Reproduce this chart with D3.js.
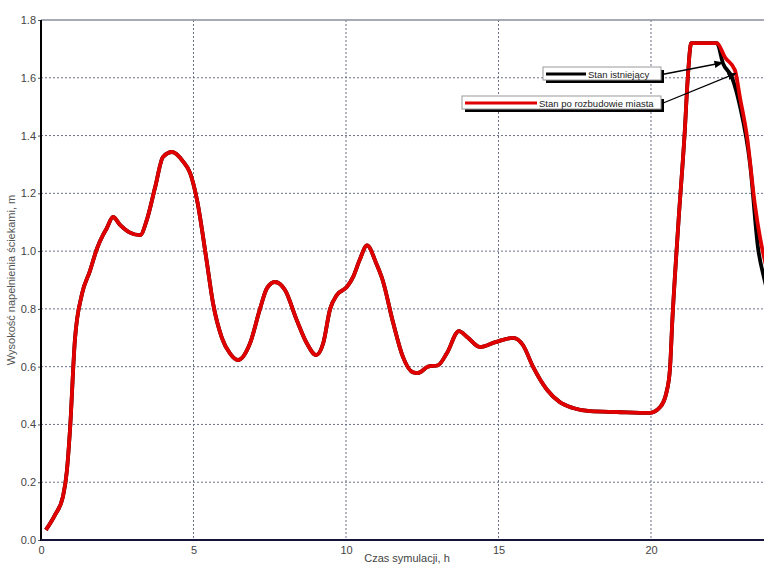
<!DOCTYPE html>
<html><head><meta charset="utf-8">
<script src="https://cdn.jsdelivr.net/npm/d3@7"></script>
<style>body{margin:0;background:#fff}svg{display:block}</style>
</head><body>
<svg id="c" width="764" height="565"></svg>
<script>
const xTicks = [0, 5, 10, 15, 20];
const yTicks = [0.0, 0.2, 0.4, 0.6, 0.8, 1.0, 1.2, 1.4, 1.6, 1.8];
const xLabel = "Czas symulacji, h";
const yLabel = "Wysokość napełnienia ściekami, m";
const seriesNames = ["Stan istniejący", "Stan po rozbudowie miasta"];

// Stan po rozbudowie miasta (red)
const redT = [0.16,0.46,0.72,0.85,0.95,1.11,1.34,1.6,1.84,2.03,2.16,2.36,2.6,2.9,3.25,3.47,3.74,4.0,4.3,4.66,4.89,5.11,5.44,5.64,5.93,6.2,6.46,6.85,7.18,7.41,7.67,8.0,8.39,8.72,9.02,9.25,9.48,9.7,10.03,10.23,10.45,10.69,11.0,11.2,11.55,11.87,12.2,12.36,12.69,13.02,13.31,13.7,14.0,14.39,14.9,15.48,15.8,16.13,16.59,17.0,17.44,18.0,18.88,19.97,20.3,20.5,20.62,20.7,20.9,21.11,21.2,21.32,22.16,22.43,22.75,22.92,23.15,23.4,23.57,23.75,24.0];
const redV = [0.035,0.087,0.15,0.24,0.38,0.69,0.85,0.93,1.01,1.055,1.08,1.118,1.09,1.065,1.055,1.108,1.22,1.326,1.343,1.31,1.27,1.18,0.96,0.82,0.70,0.645,0.623,0.68,0.80,0.872,0.893,0.865,0.76,0.68,0.64,0.68,0.80,0.848,0.876,0.91,0.97,1.02,0.955,0.90,0.75,0.633,0.58,0.578,0.60,0.605,0.647,0.723,0.70,0.668,0.685,0.70,0.675,0.60,0.52,0.478,0.457,0.446,0.443,0.44,0.46,0.508,0.59,0.76,1.1,1.42,1.59,1.72,1.72,1.67,1.627,1.53,1.395,1.166,1.05,0.96,0.88];

// Stan istniejący (black) – identical until the peak, then diverges
const blackT = [0.16,0.46,0.72,0.85,0.95,1.11,1.34,1.6,1.84,2.03,2.16,2.36,2.6,2.9,3.25,3.47,3.74,4.0,4.3,4.66,4.89,5.11,5.44,5.64,5.93,6.2,6.46,6.85,7.18,7.41,7.67,8.0,8.39,8.72,9.02,9.25,9.48,9.7,10.03,10.23,10.45,10.69,11.0,11.2,11.55,11.87,12.2,12.36,12.69,13.02,13.31,13.7,14.0,14.39,14.9,15.48,15.8,16.13,16.59,17.0,17.44,18.0,18.88,19.97,20.3,20.5,20.62,20.7,20.9,21.11,21.2,21.32,22.16,22.36,22.66,22.92,23.25,23.51,23.7,24.0];
const blackV = [0.035,0.087,0.15,0.24,0.38,0.69,0.85,0.93,1.01,1.055,1.08,1.118,1.09,1.065,1.055,1.108,1.22,1.326,1.343,1.31,1.27,1.18,0.96,0.82,0.70,0.645,0.623,0.68,0.80,0.872,0.893,0.865,0.76,0.68,0.64,0.68,0.80,0.848,0.876,0.91,0.97,1.02,0.955,0.90,0.75,0.633,0.58,0.578,0.60,0.605,0.647,0.723,0.70,0.668,0.685,0.70,0.675,0.60,0.52,0.478,0.457,0.446,0.443,0.44,0.46,0.508,0.59,0.76,1.1,1.42,1.59,1.72,1.72,1.65,1.60,1.50,1.30,1.01,0.91,0.80];

// arrow targets on the curves (data coordinates)
const arrowTargets = [[22.35, 1.652], [22.78, 1.615]];

const svg = d3.select("#c");
const m = {left: 41, top: 20, right: 773, bottom: 540};
const x = d3.scaleLinear().domain([0, 24]).range([m.left, m.right]);
const y = d3.scaleLinear().domain([0, 1.8]).range([m.bottom, m.top]);
const FONT = "'Liberation Sans', Arial, sans-serif";

// grid
const g = svg.append("g");
g.selectAll(".vg").data(xTicks.filter(d => d > 0)).join("line")
  .attr("x1", d => x(d)).attr("x2", d => x(d)).attr("y1", m.top).attr("y2", m.bottom)
  .attr("stroke", "#6a6f88").attr("stroke-width", 1).attr("stroke-dasharray", "2,2");
g.selectAll(".hg").data(yTicks.filter(d => d > 0 && d < 1.8)).join("line")
  .attr("x1", m.left).attr("x2", 764).attr("y1", d => y(d)).attr("y2", d => y(d))
  .attr("stroke", "#6a6f88").attr("stroke-width", 1).attr("stroke-dasharray", "2,2");
// top border
g.append("line").attr("x1", m.left).attr("x2", 764).attr("y1", y(1.8)).attr("y2", y(1.8))
  .attr("stroke", "#8a8c9c").attr("stroke-width", 1.5);

// axes
const yAxis = d3.axisLeft(y).tickValues(yTicks).tickFormat(d3.format(".1f")).tickSize(3).tickPadding(2);
const ya = svg.append("g").attr("transform", `translate(${m.left},0)`).call(yAxis);
ya.select(".domain").remove();
ya.selectAll("line").attr("stroke", "#555");
ya.selectAll("text").attr("fill", "#444").style("font", `11px ${FONT}`);

const xAxis = d3.axisBottom(x).tickValues(xTicks).tickSize(0).tickPadding(6);
const xa = svg.append("g").attr("transform", `translate(0,${m.bottom})`).call(xAxis);
xa.select(".domain").remove();
xa.selectAll("text").attr("fill", "#444").style("font", `11px ${FONT}`);

// lines
const line = d3.line().x(d => x(d[0])).y(d => y(d[1])).curve(d3.curveMonotoneX);
const blackData = blackT.map((t, i) => [t, blackV[i]]);
const redData = redT.map((t, i) => [t, redV[i]]);
svg.append("path").datum(blackData).attr("d", line).attr("fill", "none")
  .attr("stroke", "#000").attr("stroke-width", 3.8).attr("stroke-linejoin", "round");
svg.append("path").datum(redData).attr("d", line).attr("fill", "none")
  .attr("stroke", "#e00000").attr("stroke-width", 3.8).attr("stroke-linejoin", "round");

// axis lines
svg.append("line").attr("x1", m.left).attr("x2", m.left).attr("y1", m.top).attr("y2", m.bottom + 1)
  .attr("stroke", "#000").attr("stroke-width", 2);
svg.append("line").attr("x1", m.left).attr("x2", 764).attr("y1", m.bottom).attr("y2", m.bottom)
  .attr("stroke", "#14143a").attr("stroke-width", 2);

// axis titles
svg.append("text").attr("x", (m.left + m.right) / 2).attr("y", 562).attr("text-anchor", "middle")
  .attr("fill", "#444").style("font", `11px ${FONT}`).text(xLabel);
svg.append("text").attr("transform", `translate(15,${(m.top + m.bottom) / 2}) rotate(-90)`)
  .attr("text-anchor", "middle").attr("fill", "#555")
  .style("font", `11px ${FONT}`).text(yLabel);

// legend callouts
svg.append("defs").append("marker").attr("id", "ah").attr("viewBox", "0 0 10 10")
  .attr("refX", 9).attr("refY", 5).attr("markerWidth", 7).attr("markerHeight", 7)
  .attr("orient", "auto").append("path").attr("d", "M0,1 L10,5 L0,9 Z").attr("fill", "#000");

const boxes = [
  {x0: 543, y0: 67, w: 118, h: 13, lineW: 40, color: "#000"},
  {x0: 462, y0: 96, w: 199, h: 13, lineW: 72, color: "#e00000"}
];
boxes.forEach((b, i) => {
  const gg = svg.append("g");
  gg.append("rect").attr("x", b.x0 + 3).attr("y", b.y0 + 3).attr("width", b.w).attr("height", b.h).attr("fill", "#000");
  gg.append("rect").attr("x", b.x0).attr("y", b.y0).attr("width", b.w).attr("height", b.h)
    .attr("fill", "#fff").attr("stroke", "#999").attr("stroke-width", 1);
  gg.append("line").attr("x1", b.x0 + 3).attr("x2", b.x0 + 3 + b.lineW)
    .attr("y1", b.y0 + b.h / 2 + 0.5).attr("y2", b.y0 + b.h / 2 + 0.5)
    .attr("stroke", b.color).attr("stroke-width", 3);
  gg.append("text").attr("x", b.x0 + 5 + b.lineW).attr("y", b.y0 + b.h - 2.5)
    .attr("fill", "#222").style("font", `9.5px ${FONT}`).text(seriesNames[i]);
  const tgt = arrowTargets[i];
  svg.append("line").attr("x1", b.x0 + b.w + 1).attr("y1", b.y0 + b.h / 2 + 1)
    .attr("x2", x(tgt[0])).attr("y2", y(tgt[1]))
    .attr("stroke", "#000").attr("stroke-width", 1.3).attr("marker-end", "url(#ah)");
});
</script>
</body></html>
